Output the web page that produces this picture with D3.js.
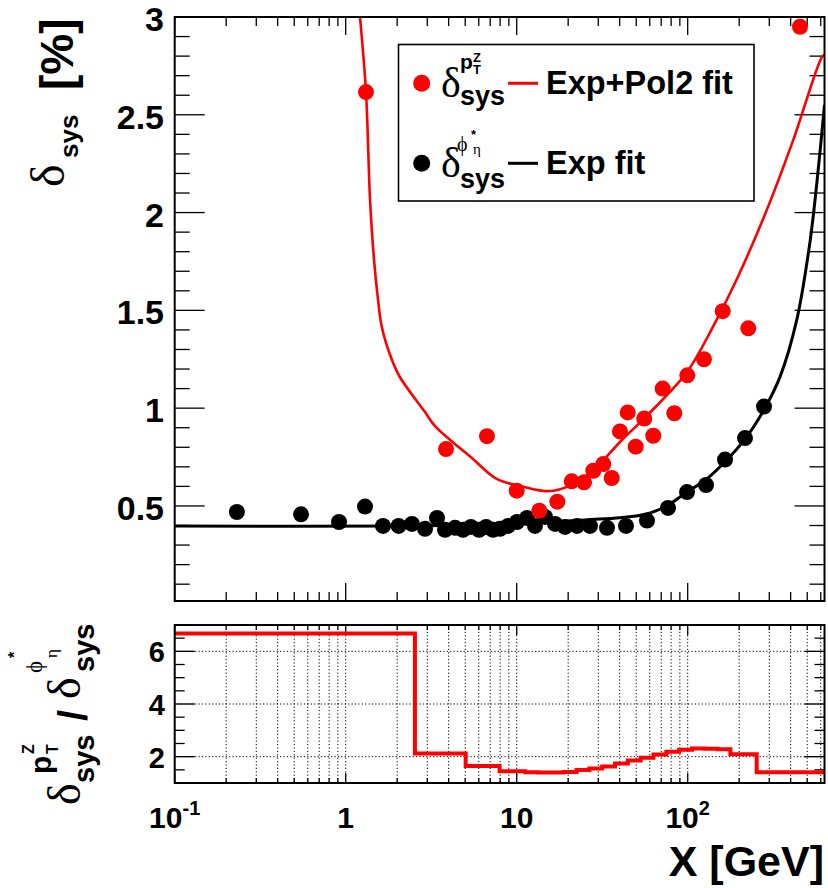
<!DOCTYPE html>
<html><head><meta charset="utf-8">
<script src="https://cdn.jsdelivr.net/npm/d3@7"></script>
<style>body{margin:0;background:#fff}svg{display:block}</style>
</head><body><svg id="c" width="828" height="888"></svg>
<script>
// ---------------- data ----------------
const redX = [1.314, 3.86, 6.70, 10.0, 13.56, 17.28, 20.97, 24.75, 28.05, 32.09, 35.94, 40.18, 44.57, 49.66, 55.7, 62.9, 71.4, 83.5, 99.5, 124.5, 160.2, 226.1, 453.6];
const redY = [2.616, 0.791, 0.857, 0.578, 0.476, 0.522, 0.626, 0.621, 0.680, 0.714, 0.643, 0.881, 0.978, 0.803, 0.947, 0.859, 1.10, 0.974, 1.168, 1.25, 1.496, 1.408, 2.95];

const blackX = [0.231, 0.548, 0.914, 1.297, 1.652, 2.04, 2.44, 2.91, 3.42, 3.81, 4.36, 4.85, 5.40, 6.02, 6.62, 7.27, 7.99, 8.90, 10.04, 11.49, 12.79, 14.64, 16.75, 19.16, 22.52, 26.84, 33.74, 43.57, 57.81, 76.7, 99.1, 128, 165.3, 216.3, 279.4];
const blackY = [0.469, 0.457, 0.418, 0.497, 0.398, 0.398, 0.408, 0.383, 0.439, 0.378, 0.388, 0.378, 0.393, 0.378, 0.393, 0.378, 0.383, 0.398, 0.418, 0.439, 0.398, 0.444, 0.408, 0.393, 0.398, 0.398, 0.388, 0.398, 0.425, 0.490, 0.571, 0.607, 0.737, 0.847, 1.008];

const redFitX = [1.212, 1.314, 1.388, 1.464, 1.545, 1.624, 1.858, 2.077, 2.909, 3.33, 5.55, 7.64, 10.45, 14.25, 16.75, 21.34, 27.93, 40.18, 57.6, 98.6, 141.2, 193.4, 283, 414.5, 610, 631];
const redFitY = [3.0, 2.617, 2.066, 1.760, 1.556, 1.418, 1.25, 1.158, 0.980, 0.908, 0.740, 0.638, 0.602, 0.577, 0.579, 0.612, 0.680, 0.827, 0.961, 1.182, 1.42, 1.658, 1.99, 2.372, 2.796, 2.806];

const blackFitX = [0.1, 2.077, 7.99, 13.68, 26.84, 40.18, 57.6, 75.3, 98.6, 129.1, 165.3, 216.3, 280.5, 346.6, 434, 519, 569, 631];
const blackFitY = [0.397, 0.398, 0.405, 0.415, 0.43, 0.44, 0.459, 0.50, 0.57, 0.638, 0.726, 0.842, 0.995, 1.16, 1.45, 1.85, 2.15, 2.55];

const ratioEdges = [0.1, 2.54, 5.03, 7.94, 9.44, 11.22, 13.34, 15.85, 18.84, 22.39, 26.61, 31.62, 37.58, 44.67, 53.09, 63.10, 74.99, 89.13, 105.9, 125.9, 149.6, 177.8, 253.2, 631];
const ratioValues = [6.68, 2.12, 1.65, 1.45, 1.45, 1.41, 1.40, 1.40, 1.42, 1.49, 1.55, 1.63, 1.74, 1.85, 1.96, 2.08, 2.19, 2.26, 2.31, 2.30, 2.28, 2.09, 1.405];

const topYTicks = [0.5, 1, 1.5, 2, 2.5, 3];
const topYTickLabels = ["0.5", "1", "1.5", "2", "2.5", "3"];
const ratioYTicks = [2, 4, 6];
const ratioYTickLabels = ["2", "4", "6"];
const xTickValues = [0.1, 1, 10, 100];
const xTickBase = ["10", "1", "10", "10"];
const xTickExp = ["-1", "", "", "2"];

// ---------------- layout ----------------
const SANS = "'Liberation Sans', Arial, Helvetica, sans-serif";
const SERIF = "'Liberation Serif', 'Times New Roman', serif";
const L = 174.7, R = 824.5;
const svg = d3.select("#c");

const x = d3.scaleLog().domain([0.1, 631]).range([L, R]);
const yTop = d3.scaleLinear().domain([0.014, 3]).range([601, 17]);
const yRat = d3.scaleLinear().domain([1, 7]).range([783, 625]);

const xAll = x.ticks();
const xMajor = xAll.filter(v => Math.abs(Math.log10(v) - Math.round(Math.log10(v))) < 1e-9);

function frame(y0, y1) {
  svg.append("rect").attr("x", L).attr("y", y0).attr("width", R - L).attr("height", y1 - y0)
    .attr("fill", "none").attr("stroke", "#000").attr("stroke-width", 2);
}

// ---------------- top panel ----------------
const gTop = svg.append("g");
const clipTop = svg.append("clipPath").attr("id", "clipTop");
clipTop.append("rect").attr("x", L).attr("y", yTop.range()[1]).attr("width", R - L).attr("height", yTop.range()[0] - yTop.range()[1]);

const topMinor = d3.range(1, 31).map(i => i / 10);
topMinor.forEach(v => {
  const major = Math.abs(v * 2 - Math.round(v * 2)) < 1e-9;
  const len = major ? 30 : 15;
  const yy = yTop(v);
  gTop.append("line").attr("x1", L).attr("x2", L + len).attr("y1", yy).attr("y2", yy).attr("stroke", "#000").attr("stroke-width", 1.3);
  gTop.append("line").attr("x1", R - len).attr("x2", R).attr("y1", yy).attr("y2", yy).attr("stroke", "#000").attr("stroke-width", 1.3);
});
xAll.forEach(v => {
  const major = xMajor.includes(v);
  const len = major ? 18 : 9;
  const xx = x(v);
  gTop.append("line").attr("x1", xx).attr("x2", xx).attr("y1", 17).attr("y2", 17 + len).attr("stroke", "#000").attr("stroke-width", 1.3);
  gTop.append("line").attr("x1", xx).attr("x2", xx).attr("y1", 601 - len).attr("y2", 601).attr("stroke", "#000").attr("stroke-width", 1.3);
});
topYTicks.forEach((v, i) => {
  gTop.append("text").attr("x", 164).attr("y", yTop(v) + 14)
    .attr("text-anchor", "end").attr("font-family", SANS).attr("font-weight", "bold").attr("font-size", 34)
    .text(topYTickLabels[i]);
});

const lineTop = d3.line().x(d => x(d[0])).y(d => yTop(d[1])).curve(d3.curveCatmullRom.alpha(0.5));
gTop.append("path").attr("d", lineTop(blackFitX.map((v, i) => [v, blackFitY[i]])))
  .attr("fill", "none").attr("stroke", "#000").attr("stroke-width", 3).attr("clip-path", "url(#clipTop)");
gTop.append("path").attr("d", lineTop(redFitX.map((v, i) => [v, redFitY[i]])))
  .attr("fill", "none").attr("stroke", "#ff0000").attr("stroke-width", 2.6).attr("clip-path", "url(#clipTop)");

gTop.selectAll("circle.b").data(blackX.map((v, i) => [v, blackY[i]])).enter().append("circle")
  .attr("cx", d => x(d[0])).attr("cy", d => yTop(d[1])).attr("r", 8).attr("fill", "#000");
gTop.selectAll("circle.r").data(redX.map((v, i) => [v, redY[i]])).enter().append("circle")
  .attr("cx", d => x(d[0])).attr("cy", d => yTop(d[1])).attr("r", 8).attr("fill", "#ff0000");

frame(17, 601);

// legend
const lg = svg.append("g");
lg.append("rect").attr("x", 398.5).attr("y", 44.5).attr("width", 355.5).attr("height", 156.5)
  .attr("fill", "#fff").attr("stroke", "#000").attr("stroke-width", 1.6);
function legText(xx, yy, txt, size, fam, weight) {
  lg.append("text").attr("x", xx).attr("y", yy).attr("font-family", fam).attr("font-weight", weight || "normal")
    .attr("font-size", size).text(txt);
}
lg.append("circle").attr("cx", 421.7).attr("cy", 83.3).attr("r", 8.5).attr("fill", "#ff0000");
legText(441, 97, "δ", 42, SERIF);
legText(460, 105, "sys", 27, SANS, "bold");
legText(460, 69, "p", 21, SANS, "bold");
legText(473, 62, "Z", 13, SANS, "bold");
legText(473, 74, "T", 13, SANS, "bold");
lg.append("line").attr("x1", 508).attr("x2", 538).attr("y1", 83.3).attr("y2", 83.3).attr("stroke", "#ff0000").attr("stroke-width", 3);
legText(546, 93.5, "Exp+Pol2 fit", 32.5, SANS, "bold");
lg.append("circle").attr("cx", 421.7).attr("cy", 163.3).attr("r", 8.5).attr("fill", "#000");
legText(441, 177, "δ", 42, SERIF);
legText(460, 188, "sys", 27, SANS, "bold");
legText(457, 151, "ϕ", 20, SERIF);
legText(471, 139, "*", 13, SANS, "bold");
legText(473, 154, "η", 15, SERIF);
lg.append("line").attr("x1", 508).attr("x2", 538).attr("y1", 163.3).attr("y2", 163.3).attr("stroke", "#000").attr("stroke-width", 3);
legText(546, 173.5, "Exp fit", 32.5, SANS, "bold");

// top y title (rotated)
const tt = svg.append("g").attr("transform", "rotate(-90)");
function rotText(g, screenYStart, baseX, txt, size, fam, weight) {
  g.append("text").attr("x", -screenYStart).attr("y", baseX).attr("font-family", fam)
    .attr("font-weight", weight || "normal").attr("font-size", size).text(txt);
}
rotText(tt, 187, 64, "δ", 48, SERIF);
rotText(tt, 158, 78, "sys", 26, SANS, "bold");
rotText(tt, 90, 73, "[%]", 46, SANS, "bold");

// ---------------- ratio panel ----------------
const gR = svg.append("g");
xAll.forEach(v => {
  gR.append("line").attr("x1", x(v)).attr("x2", x(v)).attr("y1", 625).attr("y2", 783)
    .attr("stroke", "#000").attr("stroke-width", 1).attr("stroke-dasharray", "1.2,2.2");
});
ratioYTicks.forEach(v => {
  gR.append("line").attr("x1", L).attr("x2", R).attr("y1", yRat(v)).attr("y2", yRat(v))
    .attr("stroke", "#000").attr("stroke-width", 1).attr("stroke-dasharray", "1.2,2.2");
});
d3.range(1, 7.01, 0.5).forEach(v => {
  const major = Math.abs(v - Math.round(v)) < 1e-9 && Math.round(v) % 2 === 0;
  const len = major ? 20 : 10;
  const yy = yRat(v);
  gR.append("line").attr("x1", L).attr("x2", L + len).attr("y1", yy).attr("y2", yy).attr("stroke", "#000").attr("stroke-width", 1.3);
  gR.append("line").attr("x1", R - len).attr("x2", R).attr("y1", yy).attr("y2", yy).attr("stroke", "#000").attr("stroke-width", 1.3);
});
xAll.forEach(v => {
  const major = xMajor.includes(v);
  const len = major ? 10 : 5;
  const xx = x(v);
  gR.append("line").attr("x1", xx).attr("x2", xx).attr("y1", 625).attr("y2", 625 + len).attr("stroke", "#000").attr("stroke-width", 1.3);
  gR.append("line").attr("x1", xx).attr("x2", xx).attr("y1", 783 - len).attr("y2", 783).attr("stroke", "#000").attr("stroke-width", 1.3);
});
const stepPts = ratioEdges.map((e, i) => [e, ratioValues[Math.min(i, ratioValues.length - 1)]]);
gR.append("path").attr("d", d3.line().x(d => x(d[0])).y(d => yRat(d[1])).curve(d3.curveStepAfter)(stepPts))
  .attr("fill", "none").attr("stroke", "#ff0000").attr("stroke-width", 4);
frame(625, 783);

ratioYTicks.forEach((v, i) => {
  gR.append("text").attr("x", 165).attr("y", yRat(v) + 11)
    .attr("text-anchor", "end").attr("font-family", SANS).attr("font-weight", "bold").attr("font-size", 29)
    .text(ratioYTickLabels[i]);
});
xTickValues.forEach((v, i) => {
  const t = gR.append("text").attr("x", x(v)).attr("y", 828).attr("text-anchor", "middle")
    .attr("font-family", SANS).attr("font-weight", "bold").attr("font-size", 30);
  t.append("tspan").text(xTickBase[i]);
  if (xTickExp[i]) t.append("tspan").attr("font-size", 20).attr("dy", -13).text(xTickExp[i]);
});
svg.append("text").attr("x", 824).attr("y", 876).attr("text-anchor", "end")
  .attr("font-family", SANS).attr("font-weight", "bold").attr("font-size", 43).text("X [GeV]");

const rt = svg.append("g").attr("transform", "rotate(-90)");
rotText(rt, 805, 80, "δ", 46, SERIF);
rotText(rt, 783, 94, "sys", 29, SANS, "bold");
rotText(rt, 774, 51, "p", 30, SANS, "bold");
rotText(rt, 754, 58, "T", 16, SANS, "bold");
rotText(rt, 754, 34, "Z", 16, SANS, "bold");
rotText(rt, 721, 87, "/", 40, SANS, "bold");
rotText(rt, 699, 80, "δ", 46, SERIF);
rotText(rt, 672, 94, "sys", 29, SANS, "bold");
rotText(rt, 673, 42, "ϕ", 23, SERIF);
rotText(rt, 658, 20, "*", 16, SANS, "bold");
rotText(rt, 658, 57, "η", 17, SERIF);
</script>
</body></html>
